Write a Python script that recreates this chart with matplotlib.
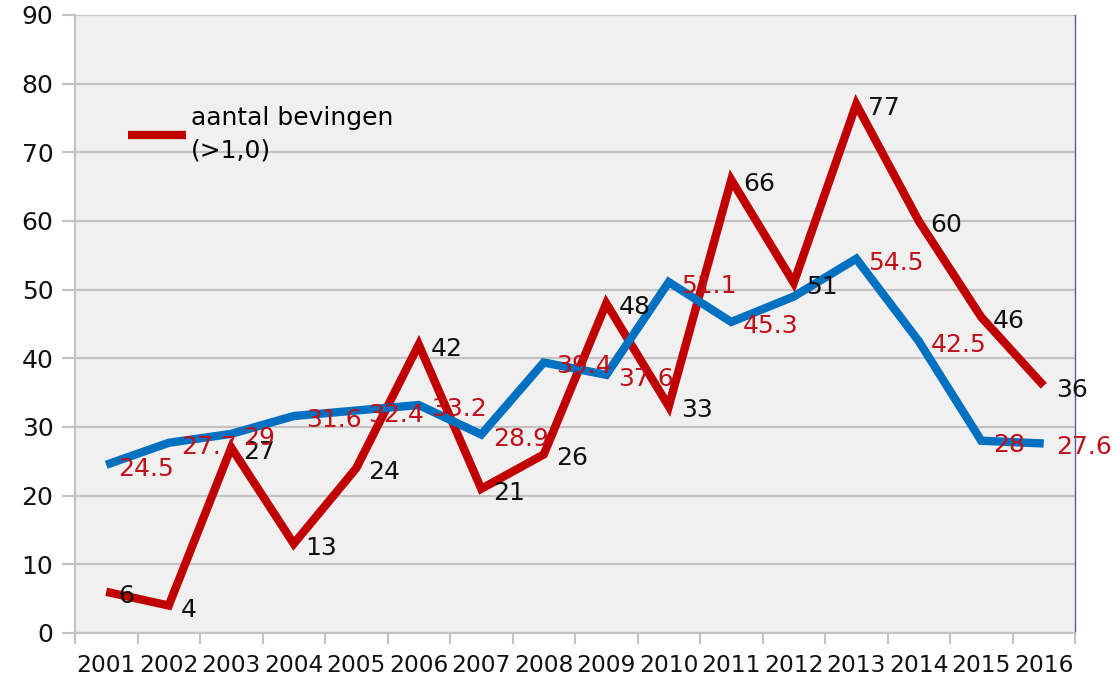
import numpy as np
import matplotlib.pyplot as plt
from matplotlib.ticker import FixedLocator

# %%
years = [str(y) for y in range(2001, 2017)]
bevingen = [6, 4, 27, 13, 24, 42, 21, 26, 48, 33, 66, 51, 77, 60, 46, 36]
gemiddeld = [24.5, 27.7, 29, 31.6, 32.4, 33.2, 28.9, 39.4, 37.6, 51.1, 45.3, 49, 54.5, 42.5, 28, 27.6]
gemiddeld_labels = ['24.5', '27.7', '29', '31.6', '32.4', '33.2', '28.9', '39.4', '37.6',
                    '51.1', '45.3', None, '54.5', '42.5', '28', '27.6']

red = '#c00000'
blue = '#0070c0'
grid = '#c3c3c3'

plt.rcParams['font.family'] = ['DejaVu Sans']

# %%
fig = plt.figure(figsize=(11.2, 6.79), dpi=100)
ax = fig.add_axes([75 / 1120, 1 - 633 / 679, 1000 / 1120, 618 / 679])
ax.set_facecolor('#f0f0f0')

x = np.arange(len(years))
ax.plot(x, bevingen, color=red, lw=6, solid_joinstyle='miter', solid_capstyle='butt',
        label='aantal bevingen\n(>1,0)', zorder=3)
ax.plot(x, gemiddeld, color=blue, lw=6, solid_joinstyle='miter', solid_capstyle='butt', zorder=4)

for xi, v in zip(x, bevingen):
    ax.annotate(str(v), (xi, v), xytext=(12, -4), textcoords='offset pixels',
                ha='left', va='center', fontsize=18, color='#111111', zorder=6)
for xi, v, lab in zip(x, gemiddeld, gemiddeld_labels):
    if lab is None:
        continue
    ax.annotate(lab, (xi, v), xytext=(12, -4), textcoords='offset pixels',
                ha='left', va='center', fontsize=18, color='#c0101a', zorder=6)

ax.set_xlim(-0.5, len(years) - 0.5)
ax.set_ylim(0, 90)
ax.set_yticks(range(0, 91, 10))
ax.set_xticks(x)
ax.set_xticklabels(years)
ax.xaxis.set_minor_locator(FixedLocator(np.arange(-0.5, len(years), 1)))
ax.tick_params(axis='x', which='major', length=0, pad=15, labelsize=16.8, labelcolor='#111111')
ax.tick_params(axis='x', which='minor', length=8, width=1.5, color=grid)
ax.tick_params(axis='y', length=9.5, width=1.5, color=grid, pad=6, labelsize=18, labelcolor='#111111')

ax.grid(axis='y', color=grid, lw=1.6, zorder=1)
ax.set_axisbelow(True)
ax.spines['top'].set_visible(False)
ax.spines['left'].set_color(grid)
ax.spines['left'].set_linewidth(1.6)
ax.spines['bottom'].set_color(grid)
ax.spines['bottom'].set_linewidth(1.6)
ax.spines['right'].set_color('#5a5aa0')
ax.spines['right'].set_linewidth(1)

leg = ax.legend(loc='upper left', bbox_to_anchor=(0.053, 0.853), frameon=False, fontsize=18,
                handlelength=2.3, handletextpad=0.22, borderpad=0, borderaxespad=0,
                labelspacing=0)
for t in leg.get_texts():
    t.set_linespacing(1.45)

fig.savefig('out.png', dpi=100)
